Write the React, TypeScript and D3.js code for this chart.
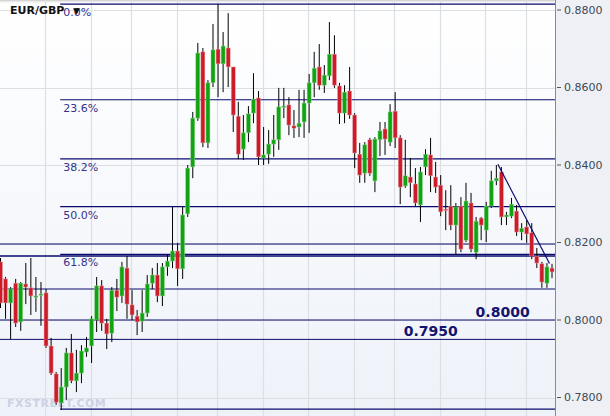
import React from 'react';
import * as d3 from 'd3';

const symbol = 'EUR/GBP';

const opens = [
  0.8150, 0.8106, 0.8044, 0.8095, 0.7995, 0.8093, 0.8083, 0.8059, 0.8065, 0.8070,
  0.7933, 0.7861, 0.7786, 0.7827, 0.7915, 0.7843, 0.7863, 0.7917, 0.7933, 0.8000,
  0.8088, 0.7992, 0.7966, 0.8077, 0.8062, 0.8134, 0.8039, 0.8010, 0.7997, 0.8018,
  0.8095, 0.8116, 0.8062, 0.8137, 0.8152, 0.8178, 0.8132, 0.8274, 0.8395, 0.8521,
  0.8692, 0.8457, 0.8612, 0.8699, 0.8661, 0.8702, 0.8653, 0.8526, 0.8441, 0.8483,
  0.8534, 0.8573, 0.8418, 0.8428, 0.8454, 0.8465, 0.8550, 0.8555, 0.8501, 0.8498,
  0.8511, 0.8560, 0.8612, 0.8653, 0.8606, 0.8630, 0.8686, 0.8604, 0.8534, 0.8591,
  0.8529, 0.8428, 0.8379, 0.8465, 0.8359, 0.8465, 0.8493, 0.8459, 0.8539, 0.8470,
  0.8346, 0.8369, 0.8351, 0.8297, 0.8395, 0.8426, 0.8369, 0.8348, 0.8286, 0.8294,
  0.8245, 0.8294, 0.8206, 0.8302, 0.8175, 0.8263, 0.8232, 0.8294, 0.8359, 0.8382,
  0.8266, 0.8268, 0.8281, 0.8227, 0.8240, 0.8225, 0.8165, 0.8145, 0.8095, 0.8134,
];

const highs = [
  0.8160, 0.8111, 0.8085, 0.8106, 0.8098, 0.8147, 0.8160, 0.8111, 0.8098, 0.8080,
  0.7954, 0.7866, 0.7876, 0.7928, 0.7964, 0.7923, 0.7935, 0.7956, 0.8010, 0.8111,
  0.8103, 0.8003, 0.8085, 0.8106, 0.8150, 0.8165, 0.8077, 0.8026, 0.8077, 0.8116,
  0.8134, 0.8147, 0.8147, 0.8168, 0.8292, 0.8199, 0.8292, 0.8400, 0.8537, 0.8715,
  0.8702, 0.8619, 0.8764, 0.8815, 0.8743, 0.8792, 0.8653, 0.8563, 0.8529, 0.8552,
  0.8637, 0.8591, 0.8498, 0.8490, 0.8529, 0.8599, 0.8599, 0.8575, 0.8542, 0.8594,
  0.8594, 0.8635, 0.8692, 0.8712, 0.8658, 0.8769, 0.8735, 0.8612, 0.8606, 0.8653,
  0.8534, 0.8457, 0.8459, 0.8470, 0.8472, 0.8511, 0.8511, 0.8557, 0.8588, 0.8477,
  0.8465, 0.8418, 0.8392, 0.8395, 0.8441, 0.8470, 0.8408, 0.8374, 0.8335, 0.8348,
  0.8302, 0.8317, 0.8354, 0.8328, 0.8266, 0.8266, 0.8305, 0.8385, 0.8400, 0.8395,
  0.8279, 0.8315, 0.8297, 0.8250, 0.8258, 0.8250, 0.8186, 0.8150, 0.8147, 0.8145,
];

const lows = [
  0.8031, 0.8003, 0.7951, 0.7982, 0.7972, 0.8041, 0.8013, 0.8021, 0.7985, 0.7928,
  0.7858, 0.7781, 0.7768, 0.7794, 0.7837, 0.7814, 0.7837, 0.7905, 0.7889, 0.7969,
  0.7972, 0.7925, 0.7943, 0.8023, 0.8044, 0.8003, 0.8000, 0.7961, 0.7969, 0.8008,
  0.8080, 0.8046, 0.8036, 0.8114, 0.8134, 0.8088, 0.8106, 0.8266, 0.8366, 0.8514,
  0.8446, 0.8444, 0.8601, 0.8575, 0.8588, 0.8601, 0.8485, 0.8415, 0.8413, 0.8459,
  0.8508, 0.8400, 0.8400, 0.8403, 0.8421, 0.8439, 0.8521, 0.8477, 0.8470, 0.8472,
  0.8470, 0.8483, 0.8575, 0.8594, 0.8586, 0.8619, 0.8599, 0.8506, 0.8508, 0.8519,
  0.8392, 0.8354, 0.8354, 0.8372, 0.8330, 0.8423, 0.8426, 0.8449, 0.8444, 0.8299,
  0.8341, 0.8317, 0.8292, 0.8253, 0.8374, 0.8330, 0.8328, 0.8268, 0.8232, 0.8232,
  0.8168, 0.8175, 0.8201, 0.8175, 0.8157, 0.8206, 0.8201, 0.8289, 0.8348, 0.8245,
  0.8245, 0.8263, 0.8217, 0.8206, 0.8199, 0.8157, 0.8134, 0.8083, 0.8083, 0.8108,
];

const closes = [
  0.8044, 0.8044, 0.8080, 0.7992, 0.8095, 0.8085, 0.8062, 0.8062, 0.8067, 0.7933,
  0.7863, 0.7788, 0.7827, 0.7915, 0.7843, 0.7863, 0.7920, 0.7928, 0.8003, 0.8088,
  0.7992, 0.7964, 0.8077, 0.8059, 0.8137, 0.8041, 0.8013, 0.7995, 0.8018, 0.8093,
  0.8116, 0.8062, 0.8137, 0.8152, 0.8178, 0.8132, 0.8271, 0.8392, 0.8521, 0.8689,
  0.8457, 0.8612, 0.8697, 0.8661, 0.8707, 0.8653, 0.8529, 0.8428, 0.8483, 0.8532,
  0.8570, 0.8421, 0.8426, 0.8454, 0.8465, 0.8550, 0.8552, 0.8503, 0.8495, 0.8508,
  0.8560, 0.8612, 0.8650, 0.8606, 0.8632, 0.8686, 0.8606, 0.8534, 0.8588, 0.8529,
  0.8431, 0.8374, 0.8452, 0.8379, 0.8467, 0.8488, 0.8467, 0.8537, 0.8470, 0.8343,
  0.8372, 0.8354, 0.8302, 0.8382, 0.8428, 0.8372, 0.8343, 0.8279, 0.8284, 0.8245,
  0.8292, 0.8183, 0.8307, 0.8183, 0.8255, 0.8245, 0.8294, 0.8359, 0.8366, 0.8266,
  0.8271, 0.8299, 0.8227, 0.8237, 0.8222, 0.8165, 0.8147, 0.8098, 0.8137, 0.8124,
];

// price axis ticks
const priceTicks = [0.78, 0.80, 0.82, 0.84, 0.86, 0.88];
// candle indices where vertical grid lines fall
const gridIndices = [9, 18, 26, 35, 43, 52, 61, 70, 78, 87, 96, 104];

// Fibonacci retracement (from swing high to swing low)
const fibHigh = 0.8815;
const fibLow = 0.7770;
const fibStartIndex = 11.8;
const fibRatios = [0, 0.236, 0.382, 0.5, 0.618, 1];
// the 100% label falls below the visible frame, so it is left blank
const fibLabels = ['0.0%', '23.6%', '38.2%', '50.0%', '61.8%', ''];

// horizontal support / resistance lines
const levelPrices = [0.8196, 0.8165, 0.8080, 0.8000, 0.7950];
const levelWidths = [1, 1.6, 1, 1, 1];
// labelled levels
const labelPrices = [0.8000, 0.7950];
const labelTexts = ['0.8000', '0.7950'];
const labelIndices = [93.9, 79.7];

// trend line
const trendIndex = [98.3, 108.5];
const trendPrice = [0.8402, 0.8146];

const FONT = '"DejaVu Sans", Verdana, sans-serif';

export default function App() {
  const W = 610;
  const H = 416;
  const plotRight = 555;
  const n = opens.length;

  const x = d3.scaleLinear().domain([0, n - 1]).range([0.5, 552]);
  const y = d3.scaleLinear().domain([0.78, 0.88]).range([397.5, 10]);
  const bodyW = 4;

  const green = '#12a312';
  const red = '#cc1c2a';
  const navy = '#0a0a6e';

  const trendLine = d3
    .line<number>()
    .x((_, i) => x(trendIndex[i]))
    .y((p) => y(p));

  return (
    <svg
      width={W}
      height={H}
      viewBox={`0 0 ${W} ${H}`}
      style={{ position: 'absolute', left: 0, top: 0, display: 'block' }}
      fontFamily={FONT}
    >
      <defs>
        <linearGradient id="plotbg" x1="0" y1="0" x2="0" y2="1">
          <stop offset="0" stopColor="#ffffff" />
          <stop offset="1" stopColor="#eef2f9" />
        </linearGradient>
        <linearGradient id="topshade" x1="0" y1="0" x2="0" y2="1">
          <stop offset="0" stopColor="#c8c8c8" />
          <stop offset="1" stopColor="#ffffff" stopOpacity="0" />
        </linearGradient>
        <clipPath id="plotclip">
          <rect x={0} y={0} width={plotRight} height={H} />
        </clipPath>
      </defs>

      {/* plot background */}
      <rect x={0} y={0} width={plotRight} height={H} fill="url(#plotbg)" />
      <rect x={0} y={0} width={plotRight} height={4} fill="url(#topshade)" />
      {/* axis background */}
      <rect x={plotRight} y={0} width={W - plotRight} height={H} fill="#eef0f5" />

      <g clipPath="url(#plotclip)">
        {/* grid */}
        {priceTicks.map((t) => (
          <line
            key={'hg' + t}
            x1={0}
            x2={plotRight}
            y1={Math.round(y(t)) + 0.5}
            y2={Math.round(y(t)) + 0.5}
            stroke="#dcdfe4"
            strokeWidth={1.2}
          />
        ))}
        {gridIndices.map((gi) => (
          <line
            key={'vg' + gi}
            x1={Math.round(x(gi)) - 0.5}
            x2={Math.round(x(gi)) - 0.5}
            y1={0}
            y2={H}
            stroke="#dcdfe4"
            strokeWidth={1.2}
          />
        ))}

        {/* watermark */}
        <text
          x={7}
          y={406.5}
          fontSize={11}
          fontWeight="bold"
          fill="#cbd2e6"
          letterSpacing={0.5}
        >
          FXSTREET.COM
        </text>

        {/* horizontal levels */}
        {levelPrices.map((p, i) => (
          <line
            key={'lv' + i}
            x1={0}
            x2={plotRight}
            y1={y(p)}
            y2={y(p)}
            stroke={navy}
            strokeWidth={levelWidths[i]}
          />
        ))}

        {/* fibonacci lines */}
        {fibRatios.map((r, i) => {
          const p = fibHigh - (fibHigh - fibLow) * r;
          const yy = y(p);
          return (
            <g key={'fib' + i}>
              <line
                x1={x(fibStartIndex)}
                x2={plotRight}
                y1={yy}
                y2={yy}
                stroke={navy}
                strokeWidth={1.2}
              />
              {fibLabels[i] ? (
                <text x={x(fibStartIndex) + 3} y={yy + 12} fontSize={11} fill="#33338a">
                  {fibLabels[i]}
                </text>
              ) : null}
            </g>
          );
        })}

        {/* candles */}
        {opens.map((o, i) => {
          const c = closes[i];
          const up = c >= o;
          const cx = x(i);
          const top = y(Math.max(o, c));
          const bot = y(Math.min(o, c));
          return (
            <g key={'c' + i}>
              <line
                x1={cx}
                x2={cx}
                y1={y(highs[i])}
                y2={y(lows[i])}
                stroke="#000"
                strokeWidth={1}
              />
              <rect
                x={cx - bodyW / 2}
                y={top}
                width={bodyW}
                height={Math.max(1.2, bot - top)}
                fill={up ? green : red}
                stroke={up ? '#8fd68f' : '#e9a3aa'}
                strokeWidth={0.5}
              />
            </g>
          );
        })}

        {/* trend line */}
        <path d={trendLine(trendPrice) || ''} fill="none" stroke={navy} strokeWidth={1.2} />

        {/* level labels */}
        {labelPrices.map((p, i) => (
          <text
            key={'ll' + i}
            x={x(labelIndices[i])}
            y={y(p) - 3}
            fontSize={14}
            fontWeight="bold"
            fill="#14146e"
          >
            {labelTexts[i]}
          </text>
        ))}

        {/* symbol */}
        <text x={10} y={14} fontSize={11} fontWeight="bold" fill="#111">
          {symbol}
        </text>
        <text x={73} y={13.5} fontSize={9} fill="#111">
          ▼
        </text>
      </g>

      {/* right axis */}
      <line x1={plotRight + 0.5} x2={plotRight + 0.5} y1={0} y2={H} stroke="#8a8a8a" strokeWidth={1} />
      {priceTicks.map((t) => (
        <g key={'ax' + t}>
          <line x1={plotRight + 2} x2={plotRight + 6} y1={y(t)} y2={y(t)} stroke="#555" strokeWidth={1} />
          <text x={564} y={y(t)} dy="0.36em" fontSize={11} fill="#3b4a55">
            {d3.format('.4f')(t)}
          </text>
        </g>
      ))}
    </svg>
  );
}
